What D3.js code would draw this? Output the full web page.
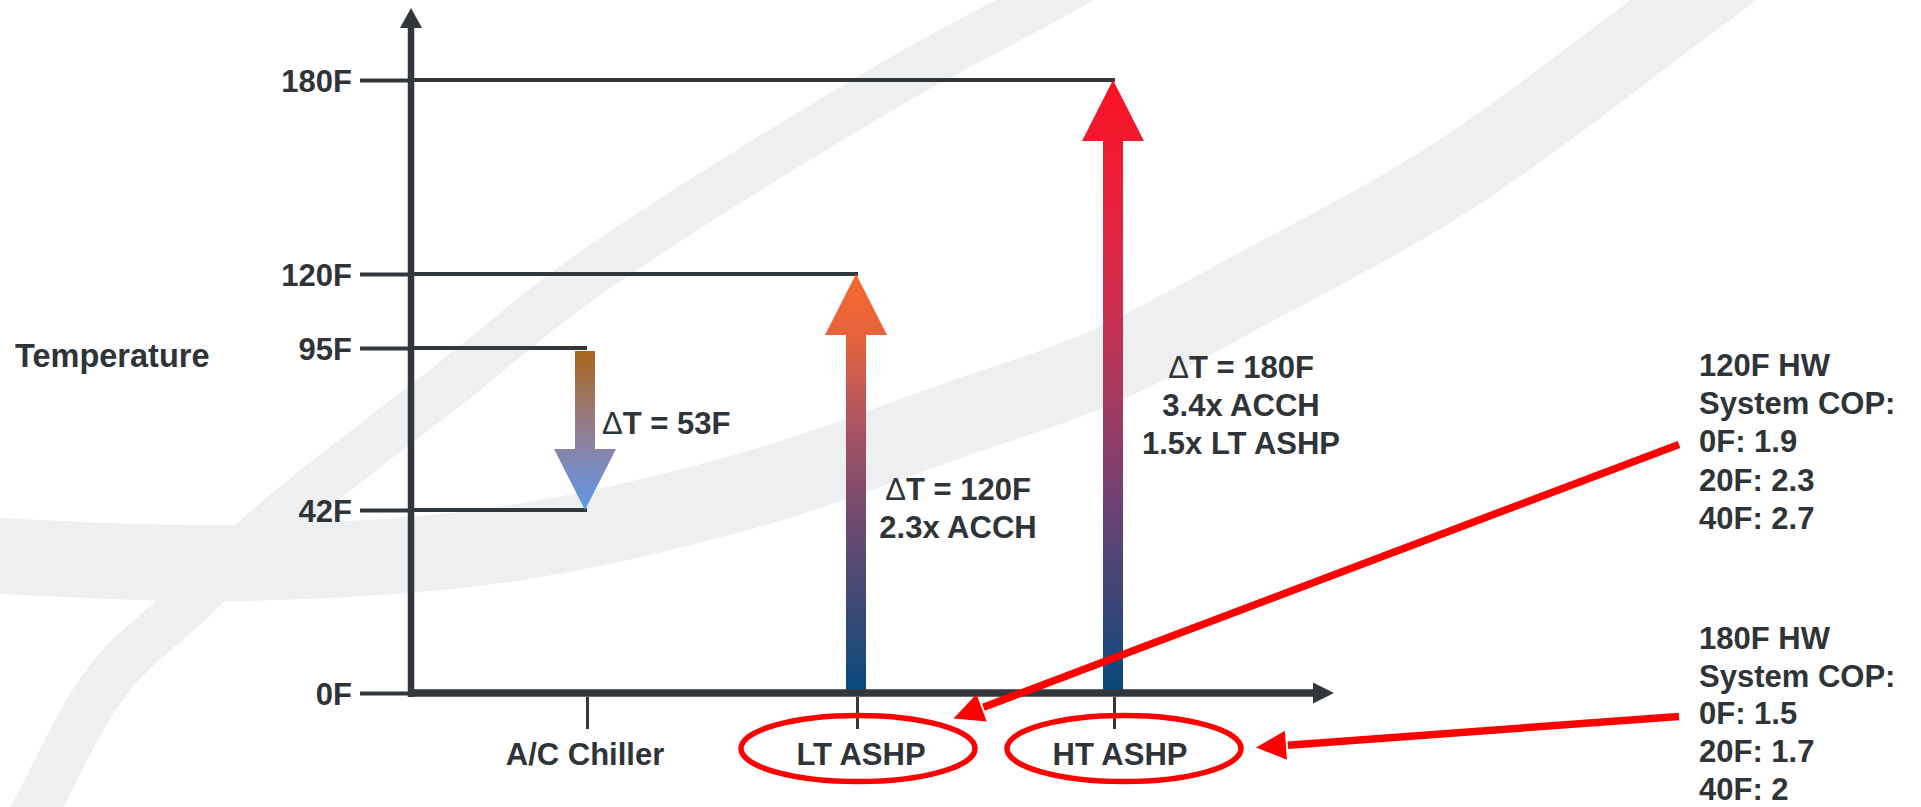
<!DOCTYPE html>
<html>
<head>
<meta charset="utf-8">
<script src="https://cdn.jsdelivr.net/npm/d3@7"></script>
<style>
  body { margin: 0; background: #fff; }
  text { font-family: "Liberation Sans", Arial, sans-serif; font-weight: bold; fill: #2f3438; }
  .thin { font-weight: normal; }
</style>
</head>
<body>
<div id="chart"></div>
<script>
// units along the bottom
const categories = ["A/C Chiller", "LT ASHP", "HT ASHP"];

// temperature ticks (schematic, not evenly spaced)
const tempTicks = [0, 42, 95, 120, 180];
const tempTickLabels = ["0F", "42F", "95F", "120F", "180F"];

// each unit moves water from one temperature to another
const startTemps = [95, 0, 0];
const endTemps = [42, 120, 180];
const deltaNotes = [
  ["ΔT = 53F"],
  ["ΔT = 120F", "2.3x ACCH"],
  ["ΔT = 180F", "3.4x ACCH", "1.5x LT ASHP"],
];

// guide lines running from the y axis over to an arrow end
const guideTemps = [180, 120, 95, 42];
const guideUnits = ["HT ASHP", "LT ASHP", "A/C Chiller", "A/C Chiller"];

// system COP callouts
const copTitles = ["120F HW", "180F HW"];
const copUnits = ["LT ASHP", "HT ASHP"];
const outdoorTemps = [0, 20, 40];
const cop120 = [1.9, 2.3, 2.7];
const cop180 = [1.5, 1.7, 2];
const copValues = [cop120, cop180];

const width = 1921, height = 807;
const dark = "#32373b";
const red = "#ff0000";

const svg = d3.select("#chart").append("svg")
  .attr("width", width)
  .attr("height", height);

const defs = svg.append("defs");

// scales
const y = d3.scaleLinear().domain(tempTicks).range([693, 510, 348, 274, 80]);
const x = d3.scaleOrdinal().domain(categories).range([585, 856, 1113]);
const axisX = 411, axisEnd = 1334;

// faint background swooshes
const swoosh = d3.line().curve(d3.curveCatmullRom);
svg.append("path")
  .attr("d", swoosh([[0, 880], [37, 807], [108, 680], [189, 603], [273, 523], [455, 380], [585, 277], [898, 80], [1046, 0], [1090, -25]]))
  .attr("fill", "none")
  .attr("stroke", "#eeeff0")
  .attr("stroke-width", 47);
svg.append("path")
  .attr("d", swoosh([[-40, 553], [0, 556], [240, 563], [500, 545], [750, 490], [960, 418], [1100, 368], [1250, 290], [1450, 178], [1680, 10], [1760, -50]]))
  .attr("fill", "none")
  .attr("stroke", "#eeeff0")
  .attr("stroke-width", 76);

// guide lines
svg.selectAll(".guide")
  .data(guideTemps)
  .enter()
  .append("line")
  .attr("class", "guide")
  .attr("x1", axisX)
  .attr("x2", (d, i) => x(guideUnits[i]) + 2)
  .attr("y1", (d) => y(d))
  .attr("y2", (d) => y(d))
  .attr("stroke", dark)
  .attr("stroke-width", 4);

// gradients for the three arrows
const gradStops = [
  [["0", "#a8661c"], ["0.35", "#9c7670"], ["0.6", "#8a82a6"], ["1", "#5e9aea"]],
  [["0", "#054a7c"], ["0.14", "#2a4b78"], ["0.41", "#6e4a70"], ["0.62", "#a85263"], ["0.85", "#e5633d"], ["1", "#f5682a"]],
  [["0", "#054a7c"], ["0.15", "#3a4677"], ["0.31", "#6e4274"], ["0.48", "#a53a60"], ["0.64", "#cf2e4e"], ["0.8", "#e8223a"], ["1", "#fb1224"]],
];

const shaftW = 20, headW = 62, headL = 61;

function arrowPoints(cx, y0, y1) {
  const dir = y1 < y0 ? -1 : 1;
  const yb = y1 - dir * headL;
  return [
    [cx - shaftW / 2, y0], [cx - shaftW / 2, yb], [cx - headW / 2, yb],
    [cx, y1], [cx + headW / 2, yb], [cx + shaftW / 2, yb], [cx + shaftW / 2, y0],
  ];
}

categories.forEach((cat, i) => {
  // chiller arrow starts just under its guide line
  const y0 = startTemps[i] > 0 ? y(startTemps[i]) + 3 : y(startTemps[i]);
  const y1 = y(endTemps[i]);
  const g = defs.append("linearGradient")
    .attr("id", "grad" + i)
    .attr("gradientUnits", "userSpaceOnUse")
    .attr("x1", 0).attr("x2", 0)
    .attr("y1", y0).attr("y2", y1);
  g.selectAll("stop")
    .data(gradStops[i])
    .enter()
    .append("stop")
    .attr("offset", (d) => d[0])
    .attr("stop-color", (d) => d[1]);

  svg.append("path")
    .attr("d", d3.line()(arrowPoints(x(cat), y0, y1)) + "Z")
    .attr("fill", "url(#grad" + i + ")");
});

// y axis with arrowhead
svg.append("line")
  .attr("x1", axisX).attr("x2", axisX)
  .attr("y1", y(0) + 4).attr("y2", 26)
  .attr("stroke", dark)
  .attr("stroke-width", 6.5);
svg.append("path")
  .attr("d", d3.line()([[axisX, 8], [axisX - 11, 28], [axisX + 11, 28]]) + "Z")
  .attr("fill", dark);

const yAxis = svg.append("g")
  .attr("transform", `translate(${axisX},0)`)
  .call(d3.axisLeft(y)
    .tickValues(tempTicks)
    .tickFormat((d, i) => tempTickLabels[i])
    .tickSize(51)
    .tickPadding(8));
yAxis.select(".domain").remove();
yAxis.selectAll(".tick line").attr("stroke", dark).attr("stroke-width", 4);
yAxis.selectAll(".tick text")
  .attr("font-size", 31)
  .attr("font-family", null)
  .attr("fill", null)
  .attr("dy", "0.37em");

// x axis with arrowhead
svg.append("line")
  .attr("x1", axisX - 3).attr("x2", axisEnd - 20)
  .attr("y1", y(0)).attr("y2", y(0))
  .attr("stroke", dark)
  .attr("stroke-width", 7.5);
svg.append("path")
  .attr("d", d3.line()([[axisEnd, y(0)], [axisEnd - 21, y(0) - 10.5], [axisEnd - 21, y(0) + 10.5]]) + "Z")
  .attr("fill", dark);

const xAxis = svg.append("g")
  .attr("transform", `translate(0,${y(0) + 4})`)
  .call(d3.axisBottom(x).tickSize(32).tickFormat(""));
xAxis.select(".domain").remove();
xAxis.selectAll(".tick line")
  .attr("stroke", dark)
  .attr("stroke-width", 3)
  .attr("transform", (d) => `translate(${d === "A/C Chiller" ? 2 : 1},0)`);

// unit labels
const labelShift = { "A/C Chiller": 0, "LT ASHP": 5, "HT ASHP": 7 };
svg.selectAll(".unitLabel")
  .data(categories)
  .enter()
  .append("text")
  .attr("class", "unitLabel")
  .attr("x", (d) => x(d) + labelShift[d])
  .attr("y", 765)
  .attr("text-anchor", "middle")
  .attr("font-size", 31)
  .text((d) => d);

// y title
svg.append("text")
  .attr("x", 15)
  .attr("y", 367)
  .attr("font-size", 32.5)
  .text("Temperature");

// writes a line, drawing the delta sign in a lighter weight like the original
function writeLine(tspan, line) {
  if (line.startsWith("Δ")) {
    tspan.append("tspan").attr("class", "thin").text("Δ");
    tspan.append("tspan").text(line.slice(1));
  } else {
    tspan.text(line);
  }
}

// delta-T notes next to each arrow
const noteLayout = [
  { dx: 17, y: 434, anchor: "start" },
  { dx: 102, y: 500, anchor: "middle" },
  { dx: 128, y: 378, anchor: "middle" },
];
categories.forEach((cat, i) => {
  const t = svg.append("text")
    .attr("font-size", 31)
    .attr("text-anchor", noteLayout[i].anchor);
  deltaNotes[i].forEach((line, j) => {
    const ts = t.append("tspan")
      .attr("x", x(cat) + noteLayout[i].dx)
      .attr("y", noteLayout[i].y + j * 38);
    writeLine(ts, line);
  });
});

// COP callouts: ellipse round the unit label, red arrow, text block
const ellipseShift = { "LT ASHP": 2, "HT ASHP": 11 };
const copTop = [376, 649];
const copX = 1699;
const lineH = [38.2, 37.7];
const tipOffset = [[95.5, -30], [132, -1]];

copUnits.forEach((unit, i) => {
  const cx = x(unit) + ellipseShift[unit];
  const cy = 748.5;
  svg.append("ellipse")
    .attr("cx", cx).attr("cy", cy)
    .attr("rx", 117).attr("ry", 33)
    .attr("fill", "none")
    .attr("stroke", red)
    .attr("stroke-width", 5.5);

  const lines = [copTitles[i], "System COP:"].concat(
    outdoorTemps.map((t, k) => `${t}F: ${copValues[i][k]}`));
  const t = svg.append("text").attr("font-size", 31);
  lines.forEach((line, j) => {
    t.append("tspan")
      .attr("x", copX)
      .attr("y", copTop[i] + j * lineH[i])
      .text(line);
  });

  const start = [copX - 20, copTop[i] + 2 * lineH[i] - 8];
  const tip = [cx + tipOffset[i][0], cy + tipOffset[i][1]];
  const dx = start[0] - tip[0], dy = start[1] - tip[1];
  const len = Math.hypot(dx, dy);
  const ux = dx / len, uy = dy / len;
  const base = [tip[0] + ux * 30, tip[1] + uy * 30];
  svg.append("line")
    .attr("x1", start[0]).attr("y1", start[1])
    .attr("x2", base[0] + ux * 2).attr("y2", base[1] + uy * 2)
    .attr("stroke", red)
    .attr("stroke-width", 7.5);
  svg.append("path")
    .attr("d", d3.line()([
      tip,
      [base[0] - uy * 14.5, base[1] + ux * 14.5],
      [base[0] + uy * 14.5, base[1] - ux * 14.5],
    ]) + "Z")
    .attr("fill", red);
});
</script>
</body>
</html>
